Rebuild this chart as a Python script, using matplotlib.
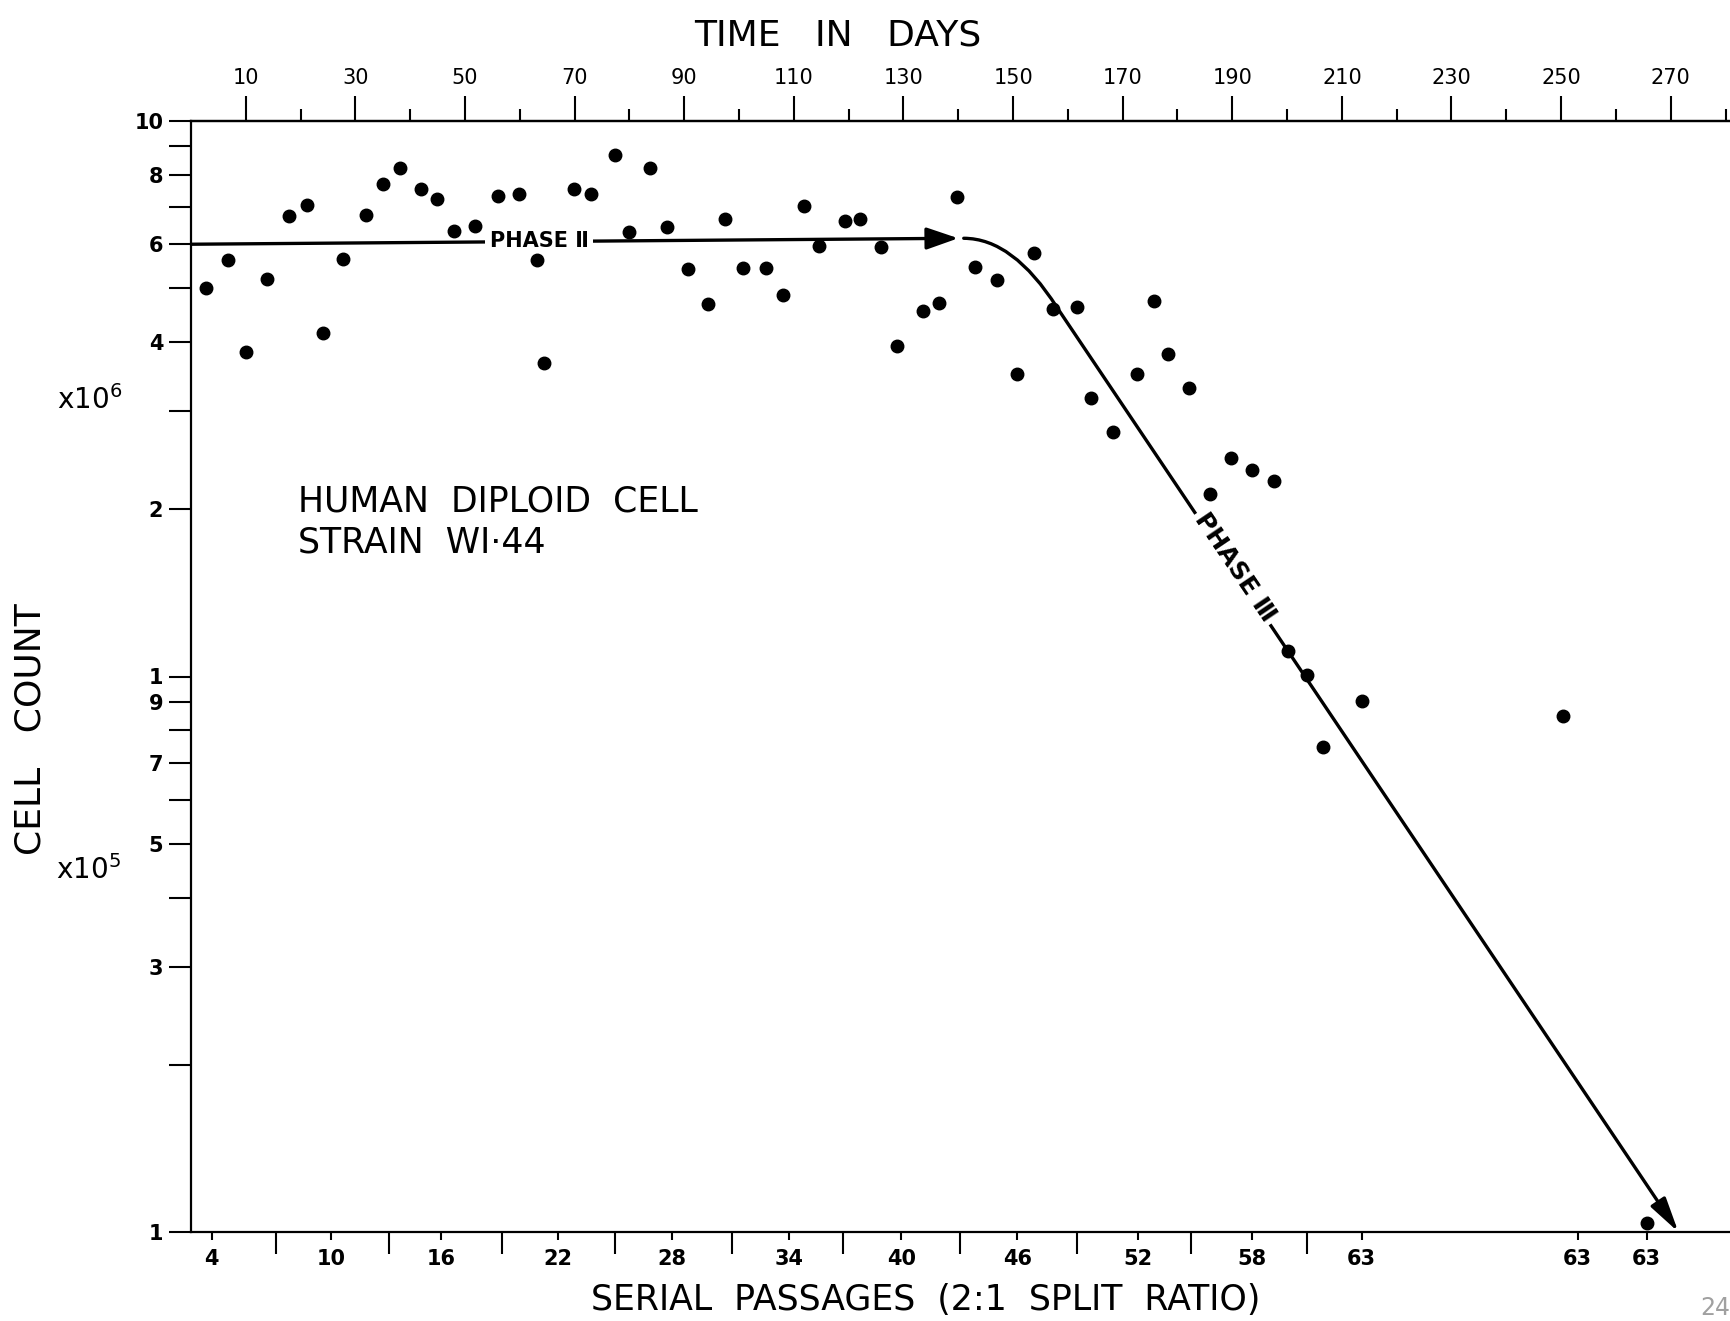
import matplotlib
matplotlib.use("Agg")
import matplotlib.pyplot as plt
from matplotlib.path import Path
from matplotlib.patches import FancyArrowPatch
from matplotlib.ticker import FixedLocator, NullFormatter

plt.rcParams['font.family'] = ['DejaVu Sans']
plt.rcParams['mathtext.default'] = 'regular'

# ---------------- data ----------------
# x in "time in days" (top axis), y = cell count
days = [2.8, 6.8, 10.1, 13.9, 17.9, 21.2, 24.0, 27.8, 32.0, 35.1, 38.1, 41.9,
        44.9, 47.9, 51.8, 56.0, 59.8, 63.1, 64.5, 69.9, 72.9, 77.4, 80.0, 83.8,
        86.8, 90.7, 94.3, 97.5, 100.7, 105.0, 108.0, 111.8, 114.6, 119.3, 122.1,
        125.9, 128.9, 133.6, 136.4, 139.8, 143.0, 147.1, 150.7, 153.9, 157.3,
        161.6, 164.2, 168.2, 172.6, 175.7, 178.3, 182.1, 185.9, 189.8, 193.6,
        197.6, 200.2, 203.7, 206.5, 213.7, 250.4, 265.7]
cell_count_millions = [5.01, 5.62, 3.84, 5.20, 6.75, 7.07, 4.15, 5.64, 6.78, 7.71,
                       8.22, 7.54, 7.23, 6.33, 6.48, 7.33, 7.40, 5.62, 3.67, 7.54,
                       7.40, 8.69, 6.30, 8.22, 6.45, 5.42, 4.68, 6.66, 5.44, 5.44,
                       4.87, 7.03, 5.96, 6.60, 6.66, 5.93, 3.93, 4.55, 4.70, 7.30,
                       5.47, 5.17, 3.50, 5.78, 4.59, 4.63, 3.17, 2.76, 3.50, 4.74,
                       3.80, 3.31, 2.13, 2.47, 2.35, 2.25, 1.11, 1.005, 0.746, 0.905,
                       0.848, 0.104]

# schematic phase lines
phase_ii_days = [0, 140]
phase_ii_millions = [6.0, 6.15]
phase_iii_days = [141, 150, 158, 271.4]          # start, corner control, end of bend, arrow tip
phase_iii_millions = [6.15, 6.15, 4.62, 0.1]

# top axis (time in days)
top_major = [10, 30, 50, 70, 90, 110, 130, 150, 170, 190, 210, 230, 250, 270]
top_minor = [20, 40, 60, 80, 100, 120, 140, 160, 180, 200, 220, 240, 260, 280]

# bottom axis (serial passages) positions on the day scale
passage_tick_days = [3.8, 25.6, 45.7, 66.9, 87.8, 109.2, 129.6, 150.8, 172.8,
                     193.6, 213.6, 253.0, 265.6]
passage_labels = ['4', '10', '16', '22', '28', '34', '40', '46', '52', '58',
                  '63', '63', '63']
passage_minor_days = [15.5, 36.1, 56.8, 77.4, 98.7, 119.0, 140.3, 161.6, 182.4, 203.6]

# left axis
y_major = [1e7, 8e6, 6e6, 4e6, 2e6, 1e6, 9e5, 7e5, 5e5, 3e5, 1e5]
y_major_labels = ['10', '8', '6', '4', '2', '1', '9', '7', '5', '3', '1']
y_minor = [9e6, 7e6, 5e6, 3e6, 8e5, 6e5, 4e5, 2e5]

# ---------------- figure ----------------
W, H = 1731, 1321
fig = plt.figure(figsize=(W / 100, H / 100), dpi=100)
ax = fig.add_axes([191 / W, 1 - 1232 / H, 1 - 191 / W, (1232 - 121) / H])

ax.set_yscale('log')
ax.set_xlim(0, 281)
ax.set_ylim(1e5, 1e7)

lw = 2.4
# phase II arrow
p2 = Path([(phase_ii_days[0], phase_ii_millions[0] * 1e6),
           (phase_ii_days[1], phase_ii_millions[1] * 1e6)])
ax.add_patch(FancyArrowPatch(path=p2, arrowstyle='-|>,head_length=1.3,head_width=0.45',
                             mutation_scale=15, lw=lw, color='black',
                             transform=ax.transData, zorder=2))
# phase III curve + arrow
v3 = [(d, m * 1e6) for d, m in zip(phase_iii_days, phase_iii_millions)]
p3 = Path(v3, [Path.MOVETO, Path.CURVE3, Path.CURVE3, Path.LINETO])
ax.add_patch(FancyArrowPatch(path=p3, arrowstyle='-|>,head_length=1.4,head_width=0.35',
                             mutation_scale=15, lw=lw, color='black',
                             transform=ax.transData, zorder=2))

# data points
ax.plot(days, [c * 1e6 for c in cell_count_millions], 'o', color='black',
        markersize=9, zorder=4)

# phase labels
ax.text(63.5, 6.08e6, 'PHASE Ⅱ', fontsize=15, fontweight='bold', ha='center',
        va='center', zorder=3,
        bbox=dict(boxstyle='square,pad=0.2', fc='white', ec='none'))
ax.text(190.5, 1.57e6, 'PHASE Ⅲ', fontsize=18, fontweight='bold', ha='center',
        va='center', rotation=-56, rotation_mode='anchor', zorder=3,
        bbox=dict(boxstyle='square,pad=0.15', fc='white', ec='none'))

ax.text(19.5, 1.90e6, 'HUMAN  DIPLOID  CELL\nSTRAIN  WI·44', fontsize=25,
        ha='left', va='center', linespacing=1.25)

# spines
for s in ['left', 'bottom', 'top']:
    ax.spines[s].set_linewidth(1.6)
ax.spines['right'].set_visible(False)

# bottom ticks
ax.xaxis.set_major_locator(FixedLocator(passage_tick_days))
ax.set_xticklabels(passage_labels)
ax.xaxis.set_minor_locator(FixedLocator(passage_minor_days))
ax.xaxis.set_minor_formatter(NullFormatter())
ax.tick_params(axis='x', which='major', direction='out', length=6, width=1.5,
               labelsize=15, pad=6)
ax.tick_params(axis='x', which='minor', direction='out', length=16, width=1.5)
for t in ax.get_xticklabels():
    t.set_fontweight('bold')
ax.set_xlabel('SERIAL  PASSAGES  (2:1  SPLIT  RATIO)', fontsize=25, labelpad=10)
ax.xaxis.label.set_x(0.477)

# left ticks
ax.yaxis.set_major_locator(FixedLocator(y_major))
ax.set_yticklabels(y_major_labels)
ax.yaxis.set_minor_locator(FixedLocator(y_minor))
ax.yaxis.set_minor_formatter(NullFormatter())
ax.tick_params(axis='y', which='both', direction='out', length=16, width=1.5,
               labelsize=15, pad=4)
for t in ax.get_yticklabels():
    t.set_fontweight('bold')
ax.set_ylabel('CELL   COUNT', fontsize=26)
ax.yaxis.set_label_coords(-0.093, 0.453)

# top axis
sec = ax.secondary_xaxis('top')
sec.xaxis.set_major_locator(FixedLocator(top_major))
sec.set_xticklabels([str(v) for v in top_major])
sec.xaxis.set_minor_locator(FixedLocator(top_minor))
sec.xaxis.set_minor_formatter(NullFormatter())
sec.tick_params(axis='x', which='major', direction='out', length=18, width=1.5,
                labelsize=15, pad=6)
sec.tick_params(axis='x', which='minor', direction='out', length=9, width=1.5)
sec.spines['top'].set_linewidth(1.6)
sec.set_xlabel('TIME   IN   DAYS', fontsize=26, labelpad=16)
sec.xaxis.label.set_x(0.42)

# scale multipliers
fig.text(90 / W, 1 - 400 / H, 'x10$^6$', fontsize=20, ha='center', va='center')
fig.text(88 / W, 1 - 870 / H, 'x10$^5$', fontsize=20, ha='center', va='center')

# page number fragment
fig.text(1700 / W, 1 - 1308 / H, '24', fontsize=17, color='#a0a0a0',
         ha='left', va='center')

fig.savefig('out.png', dpi=100)
